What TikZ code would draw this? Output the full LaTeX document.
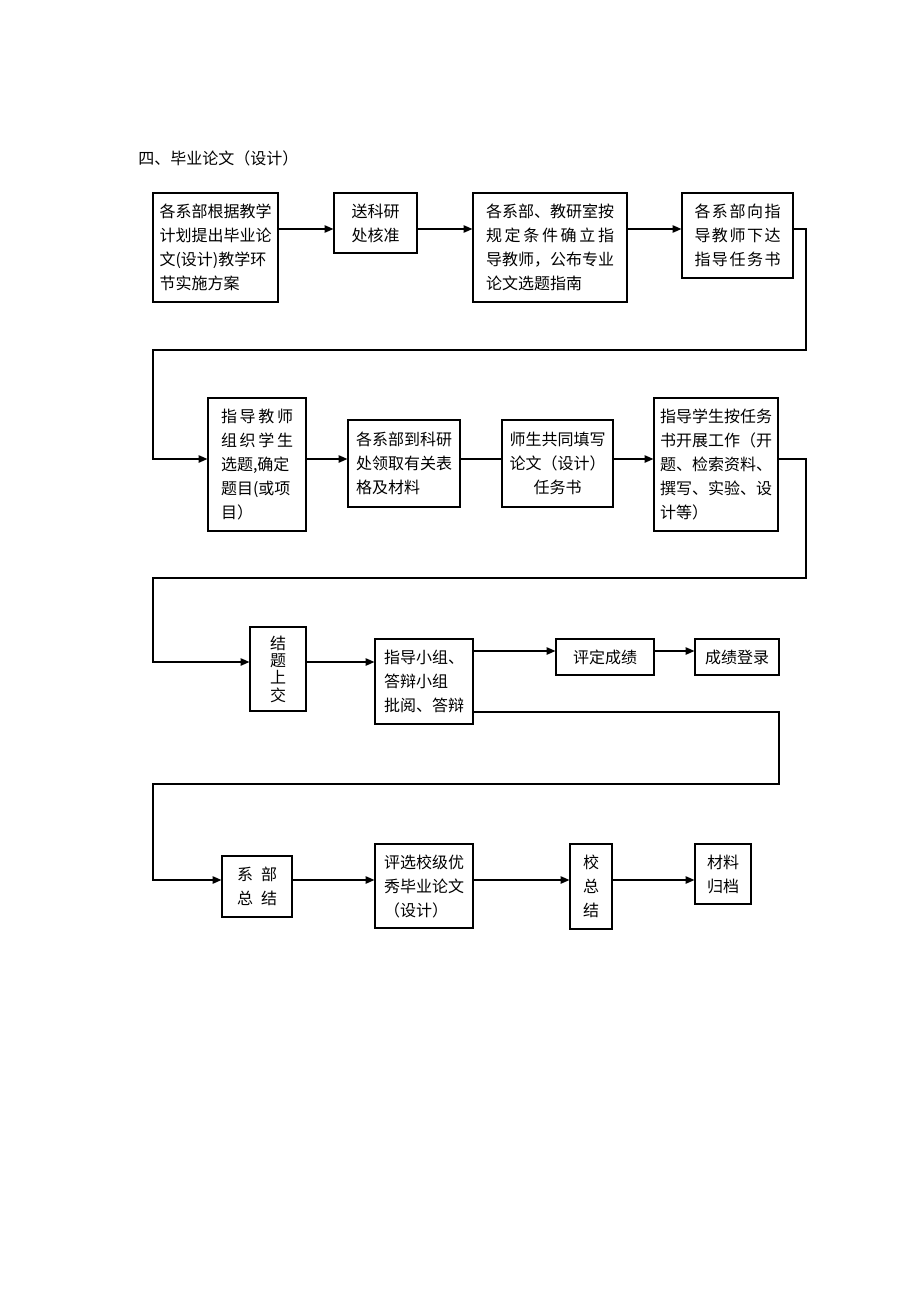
\documentclass[tikz,border=0pt]{standalone}
\usepackage{fontspec}
\setmainfont{Noto Sans CJK SC}
\usetikzlibrary{arrows.meta}
\newcommand\spr[2]{\makebox[#1][s]{#2}}
\begin{document}
\begin{tikzpicture}[x=0.75pt,y=-0.75pt,
  box/.style={draw, line width=0.9pt, inner sep=0pt, align=left,
    font=\fontsize{12pt}{18pt}\selectfont},
  arr/.style={line width=0.9pt, -{Triangle[length=6.5pt,width=5.5pt]}},
  ln/.style={line width=0.9pt}]
\useasboundingbox (0,0) rectangle (920,1302);

\node[anchor=west, inner sep=0pt, font=\fontsize{12pt}{18pt}\selectfont] (title) at (138,158) {四、毕业论文（设计）};

% row 1
\node[box, minimum width=93.75pt, minimum height=81.75pt] (A) at (215.5,247.5)
  {各系部根据教学\\计划提出毕业论\\文(设计)教学环\\节实施方案};
\node[box, align=center, minimum width=62.25pt, minimum height=45pt] (B) at (375.5,223)
  {送科研\\处核准};
\node[box, minimum width=115.5pt, minimum height=81.75pt] (C) at (550,247.5)
  {各系部、教研室按\\\spr{96pt}{规\hfil 定\hfil 条\hfil 件\hfil 确\hfil 立\hfil 指}\\导教师，公布专业\\论文选题指南};
\node[box, minimum width=83.25pt, minimum height=63.75pt] (D) at (737.5,235.5)
  {\spr{64.5pt}{各\hfil 系\hfil 部\hfil 向\hfil 指}\\\spr{64.5pt}{导\hfil 教\hfil 师\hfil 下\hfil 达}\\\spr{64.5pt}{指\hfil 导\hfil 任\hfil 务\hfil 书}};

% row 2
\node[box, minimum width=73.5pt, minimum height=99.75pt] (E) at (257,464.5)
  {\spr{54pt}{指\hfil 导\hfil 教\hfil 师}\\\spr{54pt}{组\hfil 织\hfil 学\hfil 生}\\选题,确定\\题目(或项\\目）};
\node[box, minimum width=84pt, minimum height=65.25pt] (F) at (404,463.5)
  {各系部到科研\\处领取有关表\\格及材料};
\node[box, align=center, minimum width=83.25pt, minimum height=65.25pt] (G) at (557.5,463.5)
  {师生共同填写\\论文（设计）\\任务书};
\node[box, minimum width=93pt, minimum height=99.75pt] (H) at (716,464.5)
  {指导学生按任务\\书开展工作（开\\题、检索资料、\\撰写、实验、设\\计等）};

% row 3
\node[box, align=center, minimum width=42pt, minimum height=63pt,
  font=\fontsize{12pt}{13pt}\selectfont] (I) at (278,669)
  {结\\题\\上\\交};
\node[box, minimum width=73.5pt, minimum height=63.75pt] (J) at (424,681.5)
  {指导小组、\\答辩小组\\批阅、答辩};
\node[box, align=center, minimum width=73.5pt, minimum height=27pt] (K) at (605,657)
  {评定成绩};
\node[box, align=center, minimum width=63pt, minimum height=27pt] (L) at (737,657)
  {成绩登录};

% row 4
\node[box, align=center, minimum width=52.5pt, minimum height=45.75pt] (M) at (257,886.5)
  {\spr{30pt}{系\hfil 部}\\\spr{30pt}{总\hfil 结}};
\node[box, minimum width=73.5pt, minimum height=63pt] (N) at (424,886)
  {评选校级优\\秀毕业论文\\（设计）};
\node[box, align=center, minimum width=31.5pt, minimum height=63.75pt] (O) at (591,886.5)
  {校\\总\\结};
\node[box, align=center, minimum width=42pt, minimum height=45pt] (P) at (723,874)
  {材料\\归档};

% helper coordinates
\coordinate (y1) at (0,229);
\coordinate (y2) at (0,459);
\coordinate (y3a) at (0,662);
\coordinate (y3b) at (0,651);
\coordinate (y3c) at (0,712);
\coordinate (y4) at (0,880);
\coordinate (t1) at (806,350);
\coordinate (t1b) at (153,350);
\coordinate (t2) at (806,578);
\coordinate (t2b) at (153,578);
\coordinate (t3) at (779,784);
\coordinate (t3b) at (153,784);

% connectors
\draw[arr] (A.east|-y1) -- (B.west|-y1);
\draw[arr] (B.east|-y1) -- (C.west|-y1);
\draw[arr] (C.east|-y1) -- (D.west|-y1);
\draw[arr] (D.east|-y1) -| (t1) -- (t1b) |- (E.west|-y2);

\draw[arr] (E.east|-y2) -- (F.west|-y2);
\draw[ln] (F.east|-y2) -- (G.west|-y2);
\draw[arr] (G.east|-y2) -- (H.west|-y2);
\draw[arr] (H.east|-y2) -| (t2) -- (t2b) |- (I.west|-y3a);

\draw[arr] (I.east|-y3a) -- (J.west|-y3a);
\draw[arr] (J.east|-y3b) -- (K.west|-y3b);
\draw[arr] (K.east|-y3b) -- (L.west|-y3b);
\draw[arr] (J.east|-y3c) -| (t3) -- (t3b) |- (M.west|-y4);

\draw[arr] (M.east|-y4) -- (N.west|-y4);
\draw[arr] (N.east|-y4) -- (O.west|-y4);
\draw[arr] (O.east|-y4) -- (P.west|-y4);
\end{tikzpicture}
\end{document}
